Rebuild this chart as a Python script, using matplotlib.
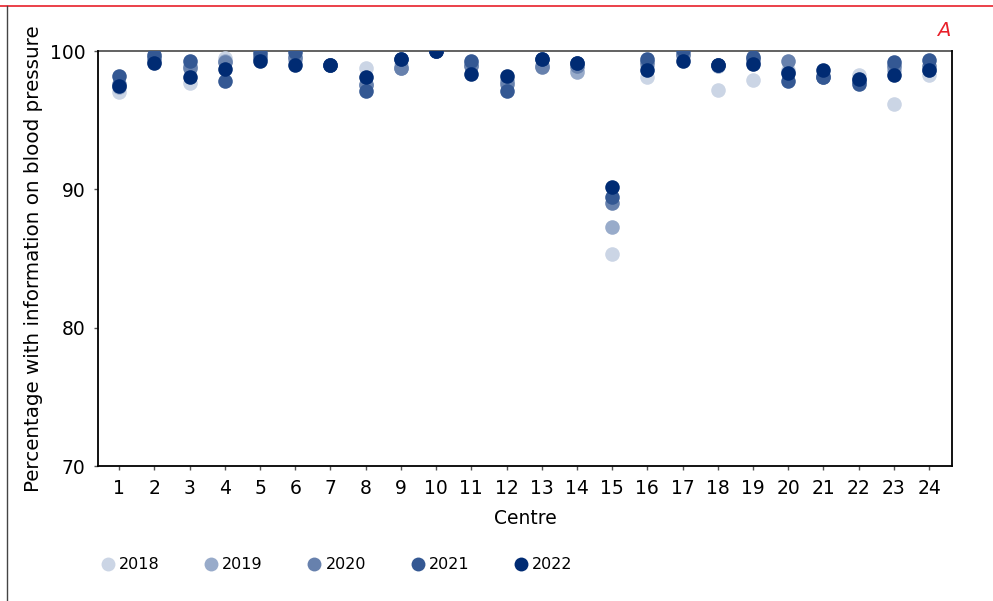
import matplotlib
matplotlib.use("Agg")
import matplotlib.pyplot as plt
from matplotlib.lines import Line2D

centres = list(range(1, 25))
years = ["2018", "2019", "2020", "2021", "2022"]
colors = ["#cbd5e5", "#98abca", "#6781ad", "#345893", "#002b73"]

pct_2018 = [97.05, 99.2, 97.7, 99.5, 99.5, 99.3, 99.0, 98.8, 99.0, 100.0, 99.1, 97.9,
            99.0, 98.7, 85.35, 98.15, 99.6, 97.15, 97.9, 98.6, 98.3, 98.25, 96.2, 98.3]
pct_2019 = [97.4, 99.3, 98.9, 99.3, 99.5, 99.4, 99.0, 97.6, 98.8, 100.0, 99.0, 97.8,
            98.9, 98.45, 87.3, 99.0, 99.7, 98.9, 99.2, 98.5, 98.2, 97.9, 98.6, 98.6]
pct_2020 = [97.6, 99.5, 98.75, 99.2, 99.6, 99.6, 99.0, 97.55, 98.8, 100.0, 98.9, 97.65,
            98.85, 98.9, 89.0, 99.2, 99.8, 99.0, 99.4, 99.25, 98.1, 97.8, 98.9, 98.9]
pct_2021 = [98.2, 99.7, 99.3, 97.8, 99.85, 99.95, 99.0, 97.1, 99.4, 100.0, 99.3, 97.1,
            99.45, 99.1, 89.45, 99.45, 100.05, 99.0, 99.55, 97.8, 98.1, 97.6, 99.2, 99.35]
pct_2022 = [97.5, 99.1, 98.15, 98.7, 99.25, 99.0, 99.0, 98.15, 99.45, 100.0, 98.35, 98.2,
            99.45, 99.1, 90.15, 98.65, 99.25, 99.0, 99.05, 98.4, 98.65, 98.0, 98.3, 98.65]
series = [pct_2018, pct_2019, pct_2020, pct_2021, pct_2022]

plt.rcParams['font.family'] = ['DejaVu Sans']

fig = plt.figure(figsize=(9.93, 6.01), dpi=100)
ax = fig.add_axes([0.0987, 0.2246, 0.86, 0.6905])

for vals, col, yr in zip(series, colors, years):
    ax.scatter(centres, vals, s=110, color=col, label=yr, zorder=3, linewidths=0)

ax.set_xlim(0.4, 24.65)
ax.set_ylim(70, 100)
ax.set_yticks([70, 80, 90, 100])
ax.set_xticks(centres)
ax.tick_params(axis='both', labelsize=13.5, length=3, width=1, color='#555555')
ax.tick_params(axis='x', pad=6)
ax.tick_params(axis='y', pad=6)
ax.set_xlabel("Centre", fontsize=13.5, labelpad=8)
ax.set_ylabel("Percentage with information on blood pressure", fontsize=14.3, labelpad=5)

for side in ['left', 'bottom', 'right']:
    ax.spines[side].set_color('black')
    ax.spines[side].set_linewidth(1.3)
ax.spines['top'].set_color('#555555')
ax.spines['top'].set_linewidth(1.3)
ax.spines['top'].set_zorder(1)

# legend below the chart
handles = [Line2D([0], [0], marker='o', linestyle='', markersize=10,
                  markerfacecolor=c, markeredgewidth=0) for c in colors]
fig.legend(handles, years, loc='center left', bbox_to_anchor=(0.085, 0.06),
           ncol=5, frameon=False, fontsize=11.5, handletextpad=0.15,
           columnspacing=2.68, handlelength=1.1)

# panel frame and tag
fig.add_artist(Line2D([0, 1], [0.99, 0.99], color='#e8202a', linewidth=1.2,
                      transform=fig.transFigure))
fig.add_artist(Line2D([0.007, 0.007], [0, 0.99], color='#444444', linewidth=1.0,
                      transform=fig.transFigure))
fig.text(0.95, 0.95, "A", color='#e8202a', fontsize=14, style='italic',
         ha='center', va='center')

fig.savefig("out.png", dpi=100)
